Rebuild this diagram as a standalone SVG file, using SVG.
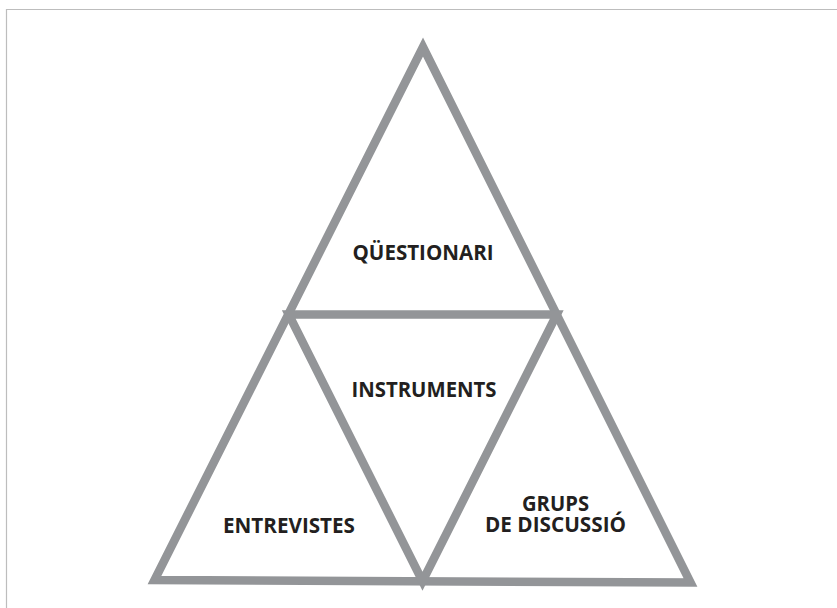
<svg xmlns="http://www.w3.org/2000/svg" width="837" height="608" viewBox="0 0 837 608">
<style>
.tri{fill:none;stroke:#939598;stroke-width:8.5;stroke-linejoin:miter;stroke-miterlimit:10}
.lbl{font-family:"Open Sans","Noto Sans","Liberation Sans",sans-serif;font-weight:700;font-size:21px;fill:#231f20;text-anchor:middle}
</style>
<rect x="0" y="0" width="837" height="608" fill="#ffffff"/>
<path d="M6.5,608 V9.5 H837" fill="none" stroke="#bdbdbd" stroke-width="1.2"/>
<g id="connectors">
<polygon id="outer-triangle" class="tri" points="423,47 154.5,580 690.5,582.5"/>
<polygon id="inner-triangle" class="tri" points="288.75,314.5 556.75,314.5 422.5,581.25"/>
</g>
<g id="node-questionari"><text class="lbl" x="423" y="260" textLength="141" lengthAdjust="spacingAndGlyphs">QÜESTIONARI</text></g>
<g id="node-instruments"><text class="lbl" x="424" y="397" textLength="145" lengthAdjust="spacingAndGlyphs">INSTRUMENTS</text></g>
<g id="node-entrevistes"><text class="lbl" x="289" y="533" textLength="132" lengthAdjust="spacingAndGlyphs">ENTREVISTES</text></g>
<g id="node-grups">
<text class="lbl" x="555.5" y="510.5" textLength="67" lengthAdjust="spacingAndGlyphs">GRUPS</text>
<text class="lbl" x="555.5" y="532" textLength="141" lengthAdjust="spacingAndGlyphs">DE DISCUSSIÓ</text>
</g>
</svg>
